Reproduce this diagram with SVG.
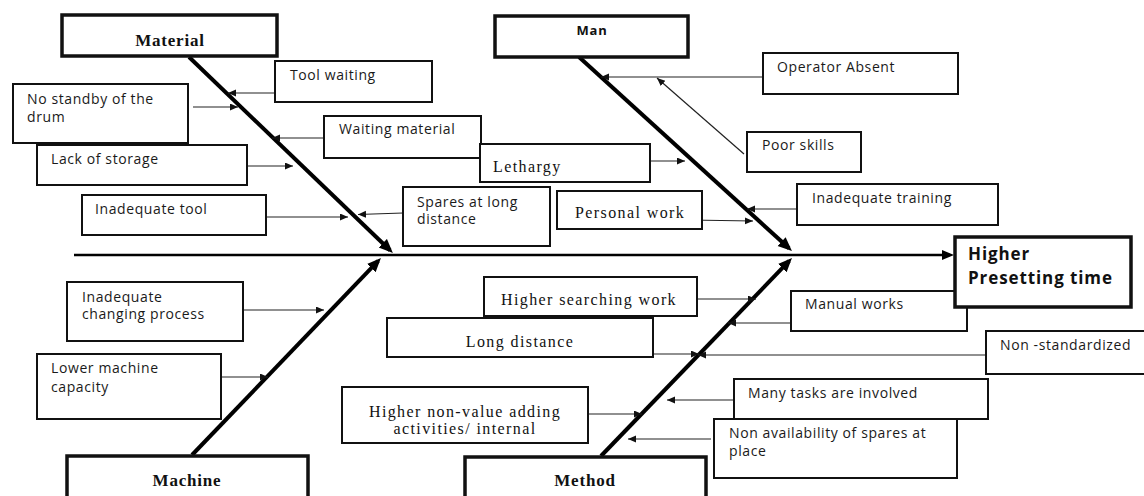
<svg xmlns="http://www.w3.org/2000/svg" width="1144" height="496" viewBox="0 0 1144 496">
<defs>
<style>
.bx{fill:#fff;stroke:#111;stroke-width:2}
.cat{fill:#fff;stroke:#111;stroke-width:3.5}
.s{font-family:"Open Sans",sans-serif;font-size:14px;letter-spacing:0.6px;fill:#1a1a1a}
.r{font-family:"Liberation Serif",serif;font-size:16px;letter-spacing:1.4px;fill:#111}
.rb{font-family:"Liberation Serif",serif;font-weight:bold;font-size:17px;letter-spacing:0.8px;fill:#111;text-anchor:middle}
.sb{font-family:"Open Sans",sans-serif;font-weight:bold;fill:#111}
.c{stroke:#222;stroke-width:1.2;fill:none;marker-end:url(#ah)}
.bone{stroke:#000;stroke-width:4;fill:none;marker-end:url(#bh)}
</style>
<marker id="ah" markerUnits="userSpaceOnUse" markerWidth="10" markerHeight="8" refX="8" refY="3.5" orient="auto"><path d="M0,0 L8,3.5 L0,7 z" fill="#111"/></marker>
<marker id="bh" markerUnits="userSpaceOnUse" markerWidth="16" markerHeight="14" refX="10" refY="6" orient="auto"><path d="M0,0 L14,6 L0,12 z" fill="#000"/></marker>
<marker id="sh" markerUnits="userSpaceOnUse" markerWidth="14" markerHeight="12" refX="8" refY="5" orient="auto"><path d="M0,0 L12,5 L0,10 z" fill="#000"/></marker>
</defs>
<rect width="1144" height="496" fill="#fff"/>

<g id="connectors">
<line x1="74" y1="255" x2="950" y2="255" stroke="#000" stroke-width="2.5" marker-end="url(#sh)"/>
<line class="bone" x1="189" y1="57" x2="390" y2="250.2"/>
<line class="bone" x1="579" y1="57" x2="789" y2="248.3" stroke-width="3.5"/>
<line class="bone" x1="192" y1="455" x2="378.2" y2="260.9"/>
<line class="bone" x1="601" y1="456" x2="789.2" y2="260.9"/>
<line class="c" x1="279" y1="93" x2="228" y2="93"/>
<line class="c" x1="193" y1="107" x2="238" y2="107"/>
<line class="c" x1="324" y1="138" x2="272" y2="138"/>
<line class="c" x1="239" y1="166" x2="293" y2="166"/>
<line class="c" x1="266" y1="217" x2="348" y2="217"/>
<line class="c" x1="403" y1="213" x2="358" y2="214.5"/>
<line class="c" x1="773" y1="77" x2="601" y2="77"/>
<line class="c" x1="744" y1="154" x2="657" y2="78"/>
<line class="c" x1="647" y1="161" x2="685" y2="161"/>
<line class="c" x1="797" y1="209" x2="747" y2="209"/>
<line class="c" x1="689" y1="220" x2="753" y2="221"/>
<line class="c" x1="242" y1="310" x2="324" y2="310"/>
<line class="c" x1="222" y1="377" x2="268" y2="377"/>
<line class="c" x1="697" y1="299" x2="756" y2="299"/>
<line class="c" x1="791" y1="323" x2="728" y2="323"/>
<line class="c" x1="636" y1="354" x2="699" y2="354"/>
<line class="c" x1="986" y1="355" x2="698" y2="355"/>
<line class="c" x1="734" y1="400" x2="667" y2="400"/>
<line class="c" x1="588" y1="414" x2="642" y2="414"/>
<line class="c" x1="711" y1="439" x2="628" y2="439"/>
</g>

<g id="material"><rect class="cat" x="62" y="15" width="215" height="41"/><text class="rb" x="170" y="46">Material</text></g>
<g id="man"><rect class="cat" x="495" y="16" width="193" height="41"/><text class="sb" x="592" y="35" font-size="13" letter-spacing="0.8" text-anchor="middle">Man</text></g>
<g id="machine"><rect class="cat" x="67" y="456" width="241" height="44"/><text class="rb" x="187" y="486">Machine</text></g>
<g id="method"><rect class="cat" x="465" y="457" width="241" height="44"/><text class="rb" x="585" y="486">Method</text></g>

<g id="tool-waiting"><rect class="bx" x="275" y="61" width="157" height="41"/><text class="s" x="290" y="80">Tool waiting</text></g>
<g id="no-standby"><rect class="bx" x="13" y="84" width="175" height="59"/><text class="s" x="27" y="104">No standby of the</text><text class="s" x="27" y="122">drum</text></g>
<g id="waiting-material"><rect class="bx" x="324" y="116" width="157" height="42"/><text class="s" x="339" y="134">Waiting material</text></g>
<g id="lethargy"><rect class="bx" x="480" y="144" width="170" height="38"/><text class="r" x="493" y="172">Lethargy</text></g>
<g id="lack-storage"><rect class="bx" x="37" y="145" width="210" height="40"/><text class="s" x="51" y="164">Lack of storage</text></g>
<g id="inadequate-tool"><rect class="bx" x="82" y="195" width="184" height="40"/><text class="s" x="95" y="214">Inadequate tool</text></g>
<g id="spares-long"><rect class="bx" x="403" y="187" width="147" height="59"/><text class="s" x="417" y="207">Spares at long</text><text class="s" x="417" y="224">distance</text></g>
<g id="personal-work"><rect class="bx" x="557" y="191" width="145" height="38"/><text class="r" x="575" y="218">Personal work</text></g>
<g id="operator-absent"><rect class="bx" x="763" y="53" width="195" height="41"/><text class="s" x="777" y="72">Operator Absent</text></g>
<g id="poor-skills"><rect class="bx" x="747" y="132" width="114" height="40"/><text class="s" x="762" y="150">Poor skills</text></g>
<g id="inadequate-training"><rect class="bx" x="797" y="184" width="201" height="41"/><text class="s" x="812" y="203">Inadequate training</text></g>

<g id="manual-works"><rect class="bx" x="791" y="291" width="176" height="40"/><text class="s" x="805" y="309">Manual works</text></g>
<g id="effect"><rect class="cat" x="955" y="237" width="176" height="70"/><text class="sb" x="968" y="260" font-size="17" letter-spacing="0.9">Higher</text><text class="sb" x="968" y="284" font-size="17" letter-spacing="0.9">Presetting time</text></g>
<g id="non-standardized"><rect class="bx" x="986" y="331" width="166" height="43"/><text class="s" x="1000" y="350">Non -standardized</text></g>
<g id="many-tasks"><rect class="bx" x="734" y="379" width="254" height="40"/><text class="s" x="748" y="398">Many tasks are involved</text></g>
<g id="non-availability"><rect class="bx" x="714" y="419" width="243" height="59"/><text class="s" x="729" y="438">Non availability of spares at</text><text class="s" x="729" y="456">place</text></g>
<g id="higher-searching"><rect class="bx" x="484" y="277" width="213" height="39"/><text class="r" x="501" y="305">Higher searching  work</text></g>
<g id="long-distance"><rect class="bx" x="387" y="318" width="266" height="39"/><text class="r" x="520" y="347" text-anchor="middle">Long distance</text></g>
<g id="higher-nonvalue"><rect class="bx" x="342" y="387" width="246" height="56"/><text class="r" x="465" y="417" text-anchor="middle">Higher non-value adding</text><text class="r" x="465" y="434" text-anchor="middle">activities/ internal</text></g>
<g id="inadequate-changing"><rect class="bx" x="67" y="282" width="176" height="59"/><text class="s" x="82" y="302">Inadequate</text><text class="s" x="82" y="319">changing process</text></g>
<g id="lower-machine"><rect class="bx" x="37" y="354" width="184" height="65"/><text class="s" x="51" y="373">Lower machine</text><text class="s" x="51" y="392">capacity</text></g>
</svg>
